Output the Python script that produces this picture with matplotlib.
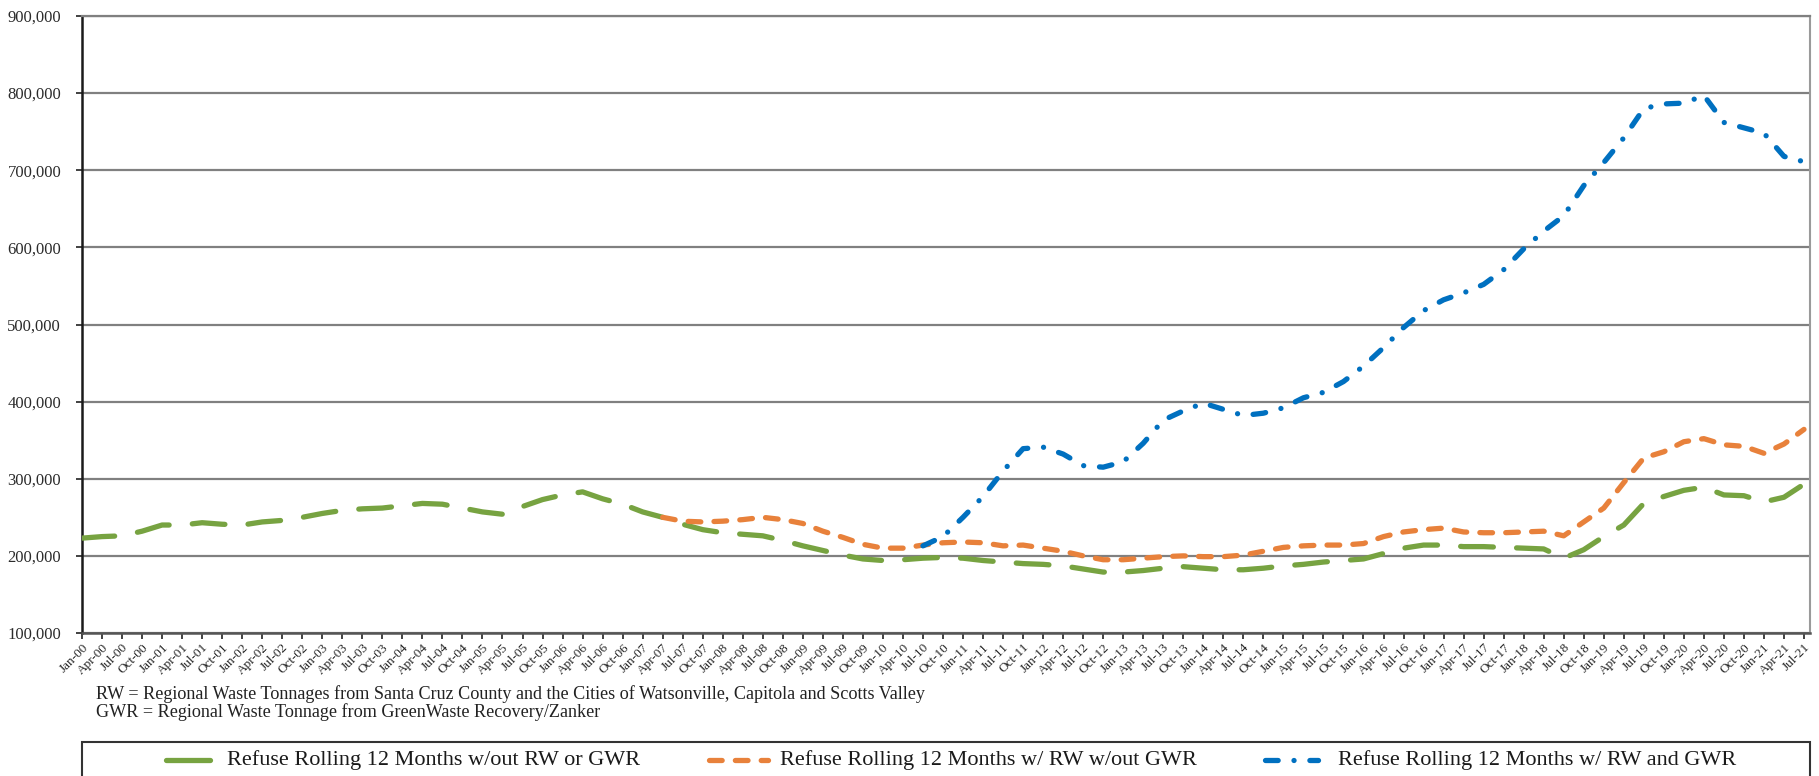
import matplotlib.pyplot as plt
import numpy as np
from matplotlib.lines import Line2D
from matplotlib.patches import Rectangle

plt.rcParams['font.family'] = ['Liberation Serif', 'DejaVu Serif']

# quarterly category labels, Jan-00 .. Jul-21
quarters = [f'{m}-{y:02d}' for y in range(22) for m in ('Jan', 'Apr', 'Jul', 'Oct')][:87]

# rolling 12 month refuse tonnage, thousands of tons
green = [223, 225, 226, 232, 240, 240, 243, 241, 240, 244, 246, 250, 255, 259, 261, 262,
         265, 268, 267, 262, 257, 254, 264, 273, 279, 283, 274, 267, 257, 250, 241, 234,
         230, 228, 226, 220, 213, 207, 201, 196, 194, 195, 197, 198, 197, 194, 192, 190,
         189, 187, 183, 179, 179, 181, 184, 186, 184, 182, 182, 184, 187, 189, 192, 194,
         196, 203, 210, 214, 214, 212, 212, 211, 210, 209, 197, 208, 225, 240, 268, 277,
         285, 289, 279, 278, 270, 276, 293]

orange = [None] * 29 + [
         250, 245, 244, 245, 247, 250, 247, 242, 232, 224, 215, 210, 210, 214, 217, 218,
         217, 213, 214, 210, 206, 200, 195, 195, 197, 199, 200, 199, 199, 201, 206, 211,
         213, 214, 214, 216, 225, 231, 234, 236, 231, 230, 230, 231, 232, 226, 244, 262,
         295, 327, 335, 348, 352, 344, 342, 333, 345, 364]

blue = [None] * 42 + [
         213, 225, 250, 277, 310, 339, 341, 332, 317, 315, 322, 346, 376, 388, 398, 390,
         382, 385, 392, 405, 412, 426, 446, 470, 496, 518, 532, 541, 552, 571, 598, 621,
         641, 680, 710, 742, 780, 786, 787, 797, 762, 755, 748, 718, 711]

labels = ['Refuse Rolling 12 Months w/out RW or GWR',
          'Refuse Rolling 12 Months w/ RW w/out GWR',
          'Refuse Rolling 12 Months w/ RW and GWR']
notes = ['RW = Regional Waste Tonnages from Santa Cruz County and the Cities of Watsonville, Capitola and Scotts Valley',
         'GWR = Regional Waste Tonnage from GreenWaste Recovery/Zanker']

colors = ['#77A341', '#E8813B', '#0070C0']
dash_styles = [(6.2, 4.4), (2.4, 2.5), (2.4, 3.0, 0.01, 3.0)]


def tons(vals):
    return np.array([np.nan if v is None else v * 1000 for v in vals], dtype=float)


W, H = 1819, 776
fig = plt.figure(figsize=(W / 100, H / 100), dpi=100)
ax = fig.add_axes([82 / W, 1 - 633 / H, (1810 - 82) / W, (633 - 16) / H])

x = np.arange(len(quarters))
lw = 3.8
for vals, c, d, z in zip([green, orange, blue], colors, dash_styles, [3, 3, 4]):
    ax.plot(x, tons(vals), color=c, lw=lw, dashes=d, dash_capstyle='round', zorder=z)

ax.set_xlim(0, 86.3)
ax.set_ylim(100000, 900000)
ax.set_yticks(np.arange(100000, 900001, 100000))
ax.set_yticklabels([f'{v:,}' for v in range(100000, 900001, 100000)], fontsize=12, color='#2b2b2b')
ax.set_xticks(x)
ax.set_xticklabels(quarters, rotation=45, ha='right', rotation_mode='anchor',
                   fontsize=9.5, color='#262626')
ax.tick_params(axis='y', length=4, width=1.3, color='#333333', pad=11)
ax.tick_params(axis='x', length=4, width=1.3, color='#333333', pad=2)

ax.yaxis.grid(True, color='#808080', lw=1.6)
ax.set_axisbelow(True)
ax.spines['left'].set_color('#1a1a1a')
ax.spines['left'].set_linewidth(1.8)
ax.spines['bottom'].set_color('#555555')
ax.spines['bottom'].set_linewidth(1.8)
ax.spines['right'].set_color('#9a9a9a')
ax.spines['right'].set_linewidth(1.5)
ax.spines['top'].set_color('#808080')
ax.spines['top'].set_linewidth(1.6)

# footnotes
fig.text(96 / W, 1 - 694 / H, notes[0], fontsize=13.1, va='center', color='#222222')
fig.text(96 / W, 1 - 712 / H, notes[1], fontsize=13.1, va='center', color='#222222')

# legend box across the bottom, drawn by hand so entries sit where they do in the original
fig.add_artist(Rectangle((82 / W, 1 - 800 / H), (1810 - 82) / W, 58 / H,
                         transform=fig.transFigure, fill=False, edgecolor='#333333', lw=1.5))
handle_x = [(166, 210), (709, 768), (1265, 1318)]
text_x = [227, 780, 1338]
ly = 1 - 760 / H
for (x0, x1), tx, c, d, lab in zip(handle_x, text_x, colors, dash_styles, labels):
    if len(d) == 2 and d[0] > 5:
        fig.add_artist(Line2D([x0 / W, x1 / W], [ly, ly], transform=fig.transFigure,
                              color=c, lw=lw, solid_capstyle='round'))
    else:
        fig.add_artist(Line2D([x0 / W, x1 / W], [ly, ly], transform=fig.transFigure,
                              color=c, lw=lw, dashes=d, dash_capstyle='round'))
    fig.text(tx / W, ly, lab, fontsize=16, va='center', color='#1a1a1a')

fig.savefig('out.png', dpi=100)
